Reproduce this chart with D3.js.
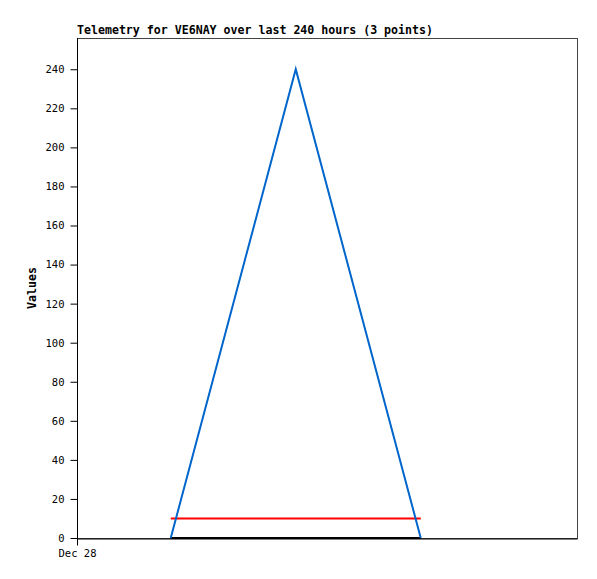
<!DOCTYPE html>
<html>
<head>
<meta charset="utf-8">
<script src="https://cdn.jsdelivr.net/npm/d3@7"></script>
<style>
  body { margin: 0; background: #fff; }
  svg { display: block; }
  text { font-family: "DejaVu Sans Mono", "Liberation Mono", monospace; }
</style>
</head>
<body>
<svg></svg>
<script>
// data
const startTime = new Date(2023, 11, 28, 0, 0);
const endTime = new Date(startTime.getTime() + 240 * 3600 * 1000);
const times = [45, 105, 165].map((h) => new Date(startTime.getTime() + h * 3600 * 1000));
const seriesBlue = [0, 240, 0];
const seriesRed = [10, 10, 10];
const seriesBlack = [0, 0, 0];
const yTicks = [0, 20, 40, 60, 80, 100, 120, 140, 160, 180, 200, 220, 240];
const xTicks = [startTime];
const titleText = "Telemetry for VE6NAY over last 240 hours (3 points)";

let width = 597;
let height = 579;
let padLeft = 77, padRight = 577, padTop = 38, padBottom = 538;
let svg = d3.select('svg').attr("width", width).attr("height", height);

let xScale = d3.scaleTime().domain([startTime, endTime]).range([padLeft, padRight]);
let yScale = d3.scaleLinear().domain([0, 256]).range([padBottom, padTop]);

// frame (top & right grey)
svg.append("rect")
   .attr("x", padLeft + 0.5).attr("y", padTop + 0.5)
   .attr("width", padRight - padLeft).attr("height", padBottom - padTop)
   .attr("fill", "none").attr("stroke", "#444").attr("stroke-width", 1);

function drawLine(values, color){
  const pts = times.map((t, i) => [t, values[i]]);
  svg.append("path")
     .datum(pts)
     .attr("fill", "none")
     .attr("stroke", color)
     .attr("stroke-width", 2)
     .attr("d", d3.line().x((d) => xScale(d[0])).y((d) => yScale(d[1])));
}

drawLine(seriesBlack, "#000");
drawLine(seriesRed, "#ff0000");
drawLine(seriesBlue, "#0066cc");

// axes
let yAxis = d3.axisLeft(yScale).tickValues(yTicks).tickSize(7).tickPadding(6).tickSizeOuter(0);
let yg = svg.append("g")
   .attr("transform", "translate(" + (padLeft + 0.5) + ",0)")
   .call(yAxis);
yg.selectAll("text").attr("font-size", 10.5).attr("font-family", "DejaVu Sans Mono").attr("fill", "#000");
yg.select(".domain").attr("stroke", "#000").attr("d", "M0," + padTop + "V" + (padBottom + 0.5));

let xAxis = d3.axisBottom(xScale).tickValues(xTicks).tickFormat(d3.timeFormat("%b %d")).tickSize(7).tickPadding(4).tickSizeOuter(0);
let xg = svg.append("g")
   .attr("transform", "translate(0," + (padBottom + 0.5) + ")")
   .call(xAxis);
xg.selectAll("text").attr("font-size", 10.5).attr("font-family", "DejaVu Sans Mono").attr("fill", "#000");
xg.select(".domain").attr("stroke", "#000");
xg.selectAll(".tick").attr("transform", (d) => "translate(" + (xScale(d) + 0.5) + ",0)");

// title
svg.append("text")
   .attr("x", padLeft).attr("y", 34)
   .attr("font-size", 11.6).attr("font-weight", "bold")
   .text(titleText);

// y label
svg.append("text")
   .attr("transform", "translate(36," + ((padTop + padBottom) / 2) + ") rotate(-90)")
   .attr("text-anchor", "middle")
   .attr("font-size", 11.6).attr("font-weight", "bold")
   .text("Values");
</script>
</body>
</html>
